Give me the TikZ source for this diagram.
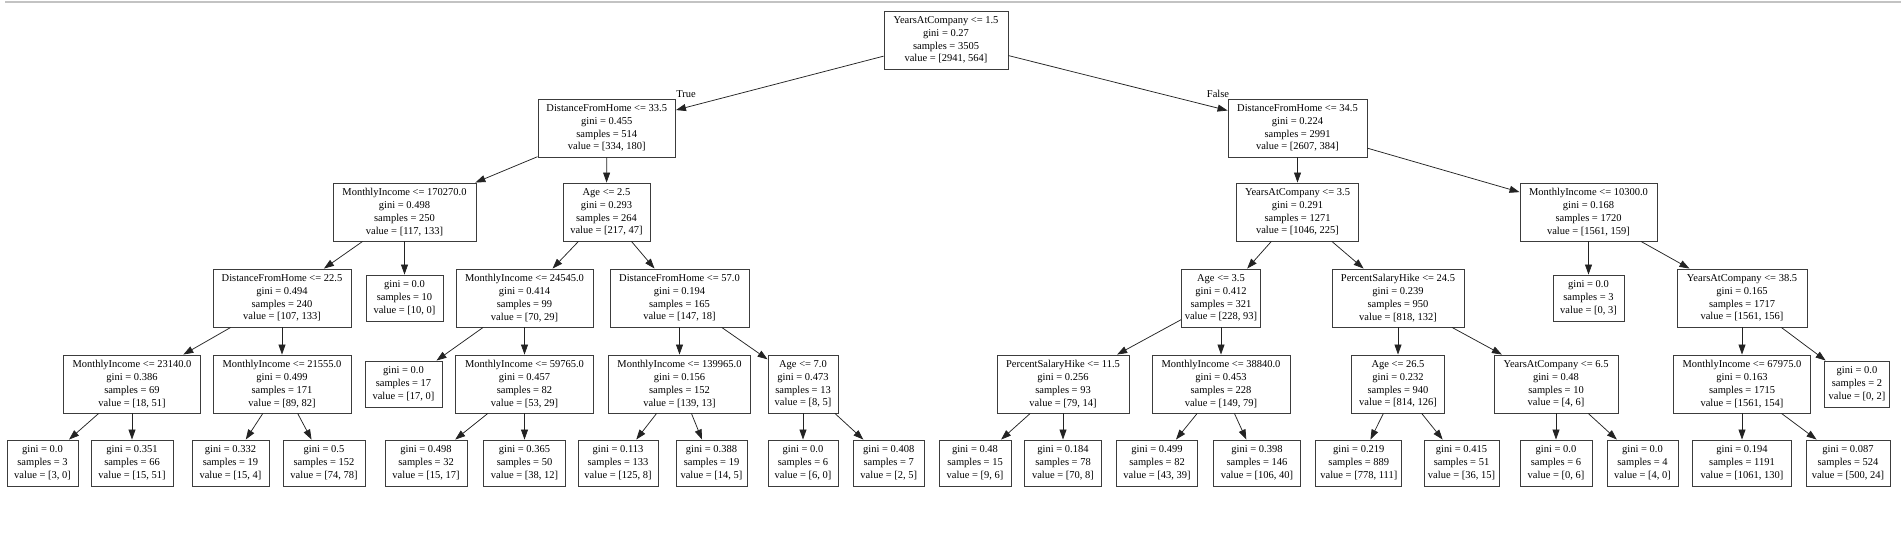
\documentclass[tikz,border=0pt]{standalone}
\usepackage{fontspec}
\setmainfont{Liberation Serif}
\usetikzlibrary{arrows.meta}
\definecolor{boxline}{RGB}{60,60,60}
\definecolor{edgeline}{RGB}{35,35,35}
\definecolor{topline}{RGB}{195,195,195}
\begin{document}
\begin{tikzpicture}[x=1pt,y=-1pt,
  box/.style={draw=boxline, line width=0.9pt, rectangle, inner sep=0pt, align=center,
    font={\fontsize{10.5}{12.8}\selectfont}},
  split/.style={box, minimum height=58pt},
  leaf/.style={box, minimum height=46pt},
  conn/.style={draw=edgeline, line width=0.75pt, -{Triangle[length=10pt,width=7pt]}},
  lbl/.style={font={\fontsize{10.5}{12.8}\selectfont}, inner sep=0pt}]
\useasboundingbox (0,0) rectangle (1901,534);
\draw[line width=2pt, topline] (5,2) -- (1901,2);
% level 0
\node[split, minimum width=124pt] (r) at (946,40) {YearsAtCompany <= 1.5\\gini = 0.27\\samples = 3505\\value = [2941, 564]};
% level 1
\node[split, minimum width=137.5pt] (A) at (606.75,128) {DistanceFromHome <= 33.5\\gini = 0.455\\samples = 514\\value = [334, 180]};
\node[split, minimum width=139pt] (B) at (1297.5,128) {DistanceFromHome <= 34.5\\gini = 0.224\\samples = 2991\\value = [2607, 384]};
% level 2
\node[split, minimum width=143pt] (AA) at (404.5,212) {MonthlyIncome <= 170270.0\\gini = 0.498\\samples = 250\\value = [117, 133]};
\node[split, minimum width=87pt] (AB) at (606.5,212) {Age <= 2.5\\gini = 0.293\\samples = 264\\value = [217, 47]};
\node[split, minimum width=122pt] (BA) at (1297.5,212) {YearsAtCompany <= 3.5\\gini = 0.291\\samples = 1271\\value = [1046, 225]};
\node[split, minimum width=137pt] (BB) at (1588.5,212) {MonthlyIncome <= 10300.0\\gini = 0.168\\samples = 1720\\value = [1561, 159]};
% level 3
\node[split, minimum width=138pt] (AAA) at (282,298) {DistanceFromHome <= 22.5\\gini = 0.494\\samples = 240\\value = [107, 133]};
\node[leaf, minimum width=77pt] (AAB) at (404.5,298) {gini = 0.0\\samples = 10\\value = [10, 0]};
\node[split, minimum width=137pt] (ABA) at (524.5,298) {MonthlyIncome <= 24545.0\\gini = 0.414\\samples = 99\\value = [70, 29]};
\node[split, minimum width=139pt] (ABB) at (679.5,298) {DistanceFromHome <= 57.0\\gini = 0.194\\samples = 165\\value = [147, 18]};
\node[split, minimum width=79pt] (BAA) at (1221,298) {Age <= 3.5\\gini = 0.412\\samples = 321\\value = [228, 93]};
\node[split, minimum width=132pt] (BAB) at (1398,298) {PercentSalaryHike <= 24.5\\gini = 0.239\\samples = 950\\value = [818, 132]};
\node[leaf, minimum width=71pt] (BBA) at (1588.5,298) {gini = 0.0\\samples = 3\\value = [0, 3]};
\node[split, minimum width=130pt] (BBB) at (1742,298) {YearsAtCompany <= 38.5\\gini = 0.165\\samples = 1717\\value = [1561, 156]};
% level 4
\node[split, minimum width=137pt] (AAAA) at (132,384) {MonthlyIncome <= 23140.0\\gini = 0.386\\samples = 69\\value = [18, 51]};
\node[split, minimum width=138pt] (AAAB) at (282,384) {MonthlyIncome <= 21555.0\\gini = 0.499\\samples = 171\\value = [89, 82]};
\node[leaf, minimum width=77pt] (ABAA) at (403.5,384) {gini = 0.0\\samples = 17\\value = [17, 0]};
\node[split, minimum width=137.5pt] (ABAB) at (524.5,384) {MonthlyIncome <= 59765.0\\gini = 0.457\\samples = 82\\value = [53, 29]};
\node[split, minimum width=142.6pt] (ABBA) at (679.5,384) {MonthlyIncome <= 139965.0\\gini = 0.156\\samples = 152\\value = [139, 13]};
\node[split, minimum width=70pt] (ABBB) at (803,384) {Age <= 7.0\\gini = 0.473\\samples = 13\\value = [8, 5]};
\node[split, minimum width=132pt] (BAAA) at (1063,384) {PercentSalaryHike <= 11.5\\gini = 0.256\\samples = 93\\value = [79, 14]};
\node[split, minimum width=138pt] (BAAB) at (1221,384) {MonthlyIncome <= 38840.0\\gini = 0.453\\samples = 228\\value = [149, 79]};
\node[split, minimum width=93pt] (BABA) at (1398,384) {Age <= 26.5\\gini = 0.232\\samples = 940\\value = [814, 126]};
\node[split, minimum width=124pt] (BABB) at (1556,384) {YearsAtCompany <= 6.5\\gini = 0.48\\samples = 10\\value = [4, 6]};
\node[split, minimum width=137pt] (BBBA) at (1742,384) {MonthlyIncome <= 67975.0\\gini = 0.163\\samples = 1715\\value = [1561, 154]};
\node[leaf, minimum width=65pt] (BBBB) at (1857,384) {gini = 0.0\\samples = 2\\value = [0, 2]};
% level 5
\node[leaf, minimum width=71pt] (AAAAA) at (42.5,463) {gini = 0.0\\samples = 3\\value = [3, 0]};
\node[leaf, minimum width=82pt] (AAAAB) at (132,463) {gini = 0.351\\samples = 66\\value = [15, 51]};
\node[leaf, minimum width=77pt] (AAABA) at (230.5,463) {gini = 0.332\\samples = 19\\value = [15, 4]};
\node[leaf, minimum width=82pt] (AAABB) at (324,463) {gini = 0.5\\samples = 152\\value = [74, 78]};
\node[leaf, minimum width=82pt] (ABABA) at (426,463) {gini = 0.498\\samples = 32\\value = [15, 17]};
\node[leaf, minimum width=82pt] (ABABB) at (524.5,463) {gini = 0.365\\samples = 50\\value = [38, 12]};
\node[leaf, minimum width=80pt] (ABBAA) at (618,463) {gini = 0.113\\samples = 133\\value = [125, 8]};
\node[leaf, minimum width=71pt] (ABBAB) at (711.5,463) {gini = 0.388\\samples = 19\\value = [14, 5]};
\node[leaf, minimum width=70pt] (ABBBA) at (803,463) {gini = 0.0\\samples = 6\\value = [6, 0]};
\node[leaf, minimum width=70.5pt] (ABBBB) at (888.75,463) {gini = 0.408\\samples = 7\\value = [2, 5]};
\node[leaf, minimum width=72pt] (BAAAA) at (975,463) {gini = 0.48\\samples = 15\\value = [9, 6]};
\node[leaf, minimum width=77pt] (BAAAB) at (1063,463) {gini = 0.184\\samples = 78\\value = [70, 8]};
\node[leaf, minimum width=81pt] (BAABA) at (1157,463) {gini = 0.499\\samples = 82\\value = [43, 39]};
\node[leaf, minimum width=87.5pt] (BAABB) at (1257,463) {gini = 0.398\\samples = 146\\value = [106, 40]};
\node[leaf, minimum width=86pt] (BABAA) at (1358.8,463) {gini = 0.219\\samples = 889\\value = [778, 111]};
\node[leaf, minimum width=75pt] (BABAB) at (1461.5,463) {gini = 0.415\\samples = 51\\value = [36, 15]};
\node[leaf, minimum width=72pt] (BABBA) at (1556,463) {gini = 0.0\\samples = 6\\value = [0, 6]};
\node[leaf, minimum width=71pt] (BABBB) at (1642.5,463) {gini = 0.0\\samples = 4\\value = [4, 0]};
\node[leaf, minimum width=99pt] (BBBAA) at (1742,463) {gini = 0.194\\samples = 1191\\value = [1061, 130]};
\node[leaf, minimum width=84pt] (BBBAB) at (1848,463) {gini = 0.087\\samples = 524\\value = [500, 24]};
% labels
\node[lbl] (tl) at (686,94) {True};
\node[lbl] (fl) at (1218,94) {False};
% edges
\foreach \p/\c in {r/A, r/B, A/AA, A/AB, B/BA, B/BB,
  AA/AAA, AA/AAB, AB/ABA, AB/ABB, BA/BAA, BA/BAB, BB/BBA, BB/BBB,
  AAA/AAAA, AAA/AAAB, ABA/ABAA, ABA/ABAB, ABB/ABBA, ABB/ABBB,
  BAA/BAAA, BAA/BAAB, BAB/BABA, BAB/BABB, BBB/BBBA, BBB/BBBB,
  AAAA/AAAAA, AAAA/AAAAB, AAAB/AAABA, AAAB/AAABB, ABAB/ABABA, ABAB/ABABB,
  ABBA/ABBAA, ABBA/ABBAB, ABBB/ABBBA, ABBB/ABBBB, BAAA/BAAAA, BAAA/BAAAB,
  BAAB/BAABA, BAAB/BAABB, BABA/BABAA, BABA/BABAB, BABB/BABBA, BABB/BABBB,
  BBBA/BBBAA, BBBA/BBBAB}
  \draw[conn] (\p) -- (\c);
\end{tikzpicture}
\end{document}
